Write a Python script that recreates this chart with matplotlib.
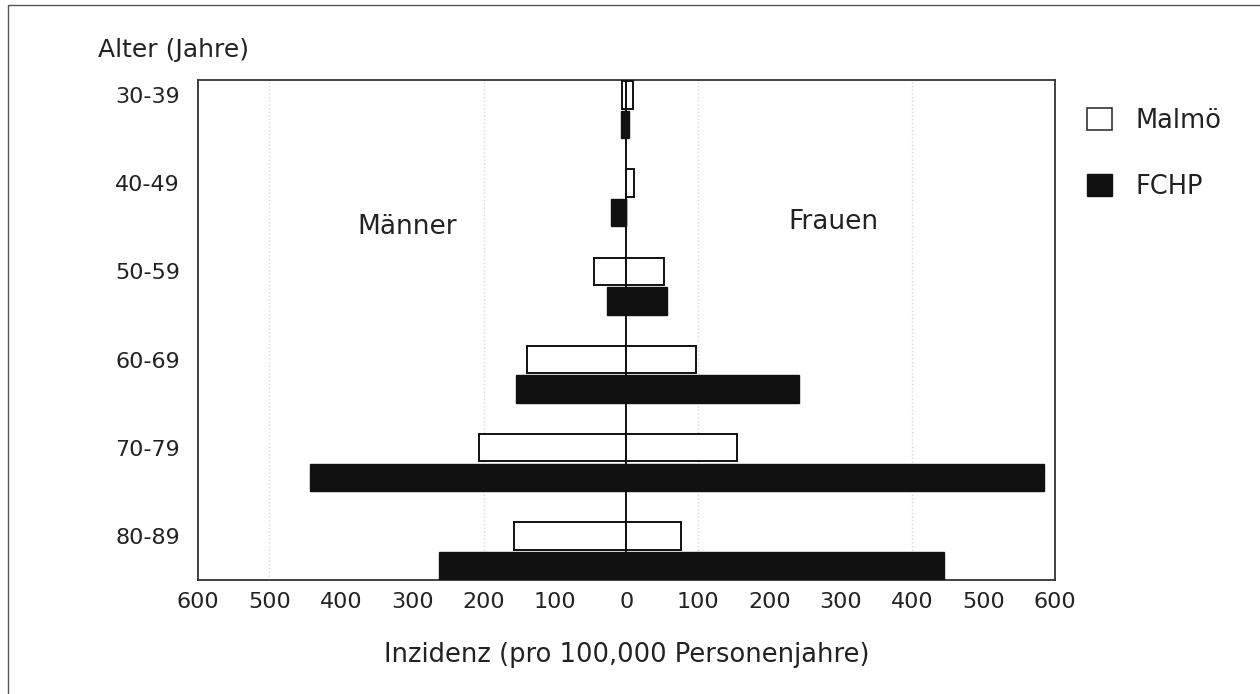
import matplotlib.pyplot as plt
from matplotlib.patches import Patch, Rectangle
import numpy as np

# data (incidence per 100,000 person-years)
age_groups = ["30-39", "40-49", "50-59", "60-69", "70-79", "80-89"]
malmo_men = [6, 0, 45, 139, 206, 157]
malmo_women = [9, 11, 53, 98, 155, 76]
fchp_men = [8, 21, 27, 155, 443, 262]
fchp_women = [3, 0, 57, 241, 584, 444]

tick_values = [-600, -500, -400, -300, -200, -100, 0, 100, 200, 300, 400, 500, 600]
tick_labels = [str(abs(v)) for v in tick_values]

plt.rcParams['font.family'] = ['DejaVu Sans']
txt_color = '#222222'

fig = plt.figure(figsize=(12.6, 6.94), dpi=100)
ax = fig.add_axes([0.1571, 0.1643, 0.6802, 0.7205])

y = np.arange(len(age_groups))
h = 0.31
off = 0.335

# Malmö (open bars), men drawn to the left
ax.barh(y, -np.array(malmo_men), height=h, color='white', edgecolor='#111111', linewidth=1.4, zorder=3)
ax.barh(y, malmo_women, height=h, color='white', edgecolor='#111111', linewidth=1.4, zorder=3)
# FCHP (filled bars)
ax.barh(y + off, -np.array(fchp_men), height=h, color='#111111', edgecolor='#111111', linewidth=1.0, zorder=3)
ax.barh(y + off, fchp_women, height=h, color='#111111', edgecolor='#111111', linewidth=1.0, zorder=3)

ax.axvline(0, color='#111111', linewidth=1.4, zorder=4)

# faint dotted grid remnants
for gx in [-500, -200, 100, 400]:
    ax.axvline(gx, color='#d8d8d8', linewidth=1.0, linestyle=':', zorder=1)

ax.set_xlim(-600, 600)
ax.set_ylim(5.5, -0.17)
ax.set_xticks(tick_values)
ax.set_xticklabels(tick_labels)
ax.set_yticks(y)
ax.set_yticklabels(age_groups)
ax.tick_params(axis='both', length=0, labelsize=16, colors=txt_color)
ax.tick_params(axis='x', pad=9)
ax.tick_params(axis='y', pad=13)

for s in ax.spines.values():
    s.set_color('#333333')
    s.set_linewidth(1.3)

ax.set_xlabel('Inzidenz (pro 100,000 Personenjahre)', fontsize=18.5, color=txt_color, labelpad=21)

fig.text(0.078, 0.928, 'Alter (Jahre)', fontsize=18, color=txt_color, va='center', ha='left')
ax.text(-307, 1.50, 'Männer', fontsize=19, color=txt_color, va='center', ha='center')
ax.text(290, 1.44, 'Frauen', fontsize=19, color=txt_color, va='center', ha='center')

handles = [Patch(facecolor='white', edgecolor='#333333', linewidth=1.2, label='Malmö'),
           Patch(facecolor='#111111', edgecolor='#111111', label='FCHP')]
leg = ax.legend(handles=handles, loc='upper left', bbox_to_anchor=(1.037, 0.944), frameon=False,
                fontsize=18.5, handlelength=1.0, handleheight=0.95, labelspacing=1.55,
                handletextpad=0.9, borderpad=0, borderaxespad=0)
for t in leg.get_texts():
    t.set_color(txt_color)

# outer frame of the figure
fig.patches.append(Rectangle((0.006, -0.01), 1.2, 1.003, transform=fig.transFigure,
                             fill=False, edgecolor='#555555', linewidth=1.0))

fig.savefig('out.png', dpi=100)
